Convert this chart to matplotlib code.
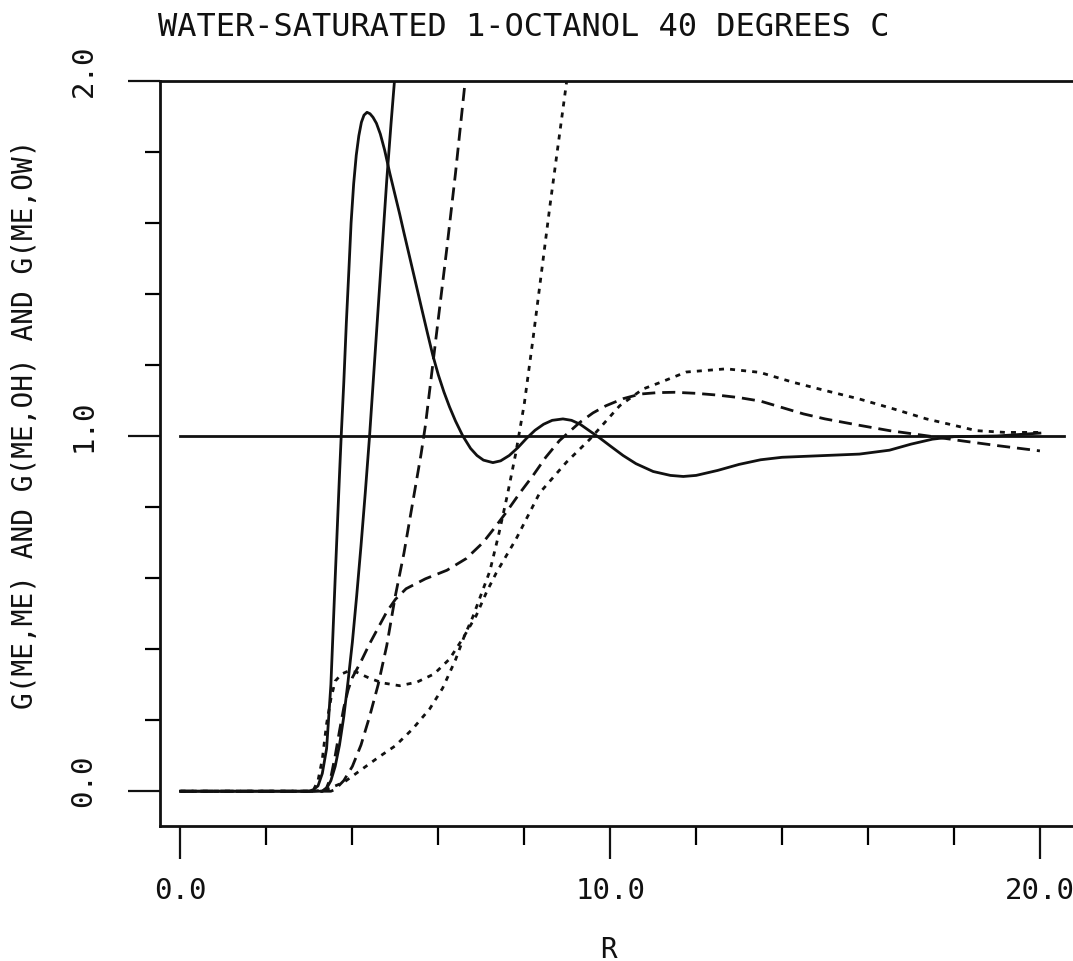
import matplotlib
matplotlib.use("Agg")
import matplotlib.pyplot as plt
import matplotlib.transforms as mtransforms
from matplotlib.ticker import MultipleLocator

plt.rcParams['font.family'] = ['DejaVu Sans Mono']

# g(ME,ME) - solid
r_mm = [0.0, 3.0, 3.1, 3.2, 3.3, 3.4, 3.5, 3.6, 3.7, 3.74, 3.8, 3.86, 3.92, 3.97, 4.03, 4.09, 4.15, 4.21, 4.27, 4.34,
        4.41, 4.48, 4.56, 4.65, 4.75, 4.87, 5.0, 5.1, 5.2, 5.33, 5.45, 5.6, 5.75, 5.87, 6.0, 6.13, 6.26, 6.4, 6.57, 6.75,
        6.9, 7.05, 7.27, 7.45, 7.65, 7.85, 8.05, 8.25, 8.45, 8.65, 8.9, 9.1, 9.3, 9.5, 9.76, 10.0, 10.3, 10.6, 11.0, 11.4,
        11.7, 12.0, 12.5, 13.0, 13.5, 14.0, 15.0, 15.8, 16.5, 17.0, 17.5, 18.0, 19.0, 20.0]
g_mm = [0.0, 0.0, 0.005, 0.015, 0.05, 0.12, 0.30, 0.60, 0.89, 1.0, 1.15, 1.32, 1.47, 1.60, 1.71, 1.79, 1.845, 1.883, 1.903, 1.911,
        1.907, 1.897, 1.88, 1.85, 1.805, 1.74, 1.675, 1.625, 1.572, 1.505, 1.443, 1.365, 1.288, 1.228, 1.172, 1.124, 1.082, 1.042, 1.0, 0.965,
        0.945, 0.932, 0.925, 0.93, 0.945, 0.967, 0.993, 1.016, 1.033, 1.044, 1.048, 1.044, 1.033, 1.016, 0.994, 0.972, 0.945, 0.922, 0.90, 0.889,
        0.886, 0.889, 0.903, 0.92, 0.933, 0.94, 0.945, 0.949, 0.96, 0.977, 0.991, 0.998, 1.0, 1.008]

# g(ME,OH) - dashed
r_oh = [0.0, 3.3, 3.4, 3.5, 3.6, 3.7, 3.8, 3.9, 4.0, 4.2, 4.4, 4.6, 4.8, 5.0, 5.25, 5.7, 6.2, 6.65, 7.04, 7.3,
        7.58, 7.9, 8.2, 8.5, 8.82, 9.29, 9.6, 9.9, 10.3, 10.7, 11.1, 11.5, 12.0, 12.5, 13.0, 13.5, 14.0, 14.5, 15.0, 15.8,
        16.5, 17.4, 18.2, 19.0, 20.0]
g_oh = [0.0, 0.0, 0.01, 0.04, 0.10, 0.17, 0.235, 0.285, 0.32, 0.365, 0.415, 0.46, 0.505, 0.54, 0.57, 0.598, 0.622, 0.655, 0.70, 0.74,
        0.785, 0.84, 0.888, 0.94, 0.987, 1.038, 1.065, 1.085, 1.105, 1.118, 1.122, 1.123, 1.12, 1.115, 1.108, 1.098, 1.08, 1.062, 1.048, 1.03,
        1.015, 1.0, 0.986, 0.973, 0.958]

# g(ME,OW) - dotted
r_ow = [0.0, 3.0, 3.1, 3.2, 3.3, 3.4, 3.5, 3.6, 3.75, 3.9, 4.1, 4.4, 4.7, 5.1, 5.5, 5.9, 6.26, 6.57, 6.88, 7.12,
        7.35, 7.81, 8.36, 8.98, 9.52, 10.22, 10.76, 11.15, 11.77, 12.7, 13.48, 14.26, 15.0, 15.8, 16.6, 17.36, 18.0, 18.52, 19.2, 20.0]
g_ow = [0.0, 0.0, 0.005, 0.03, 0.09, 0.19, 0.26, 0.31, 0.33, 0.338, 0.335, 0.318, 0.305, 0.297, 0.307, 0.33, 0.372, 0.43, 0.494, 0.56,
        0.615, 0.71, 0.84, 0.926, 0.99, 1.085, 1.132, 1.15, 1.18, 1.189, 1.179, 1.151, 1.128, 1.104, 1.076, 1.048, 1.03, 1.015, 1.01, 1.01]

# running coordination numbers (go off the top)
rn_mm = [0.0, 3.3, 3.4, 3.5, 3.6, 3.7, 3.8, 3.9, 4.0, 4.1, 4.2, 4.3, 4.4, 4.5, 4.6, 4.7, 4.8, 4.9, 5.0, 5.1]
n_mm = [0.0, 0.0, 0.008, 0.03, 0.07, 0.13, 0.21, 0.31, 0.42, 0.55, 0.69, 0.84, 1.0, 1.18, 1.36, 1.54, 1.72, 1.88, 2.03, 2.18]

rn_oh = [0.0, 3.5, 3.6, 3.8, 4.0, 4.2, 4.4, 4.6, 4.8, 5.0, 5.2, 5.4, 5.6, 5.7, 5.8, 6.0, 6.2, 6.4, 6.6, 6.7]
n_oh = [0.0, 0.0, 0.005, 0.03, 0.07, 0.13, 0.21, 0.30, 0.41, 0.55, 0.67, 0.81, 0.95, 1.03, 1.13, 1.33, 1.53, 1.74, 1.97, 2.09]

rn_ow = [0.0, 3.1, 3.4, 3.8, 4.2, 4.6, 5.0, 5.4, 5.8, 6.1, 6.4, 6.6, 6.8, 7.0, 7.2, 7.4, 7.6, 7.8, 8.0, 8.2,
         8.4, 8.6, 8.8, 9.0, 9.1]
n_ow = [0.0, 0.0, 0.005, 0.025, 0.06, 0.095, 0.128, 0.175, 0.232, 0.29, 0.37, 0.435, 0.49, 0.555, 0.62, 0.72, 0.83, 0.95, 1.09, 1.27,
        1.46, 1.65, 1.83, 2.01, 2.1]

ref_r = [0.0, 20.56]
ref_g = [1.0, 1.0]

x_labels = ['0.0', '10.0', '20.0']
y_labels = ['0.0', '1.0', '2.0']

W, H = 1073, 962
fig = plt.figure(figsize=(W / 100, H / 100), dpi=100)
fig.patch.set_facecolor('white')
ax = fig.add_axes([160 / W, (H - 826.7) / H, 913 / W, (826.7 - 81.7) / H])

k = '#111111'
lw = 2.0
dash = (0, (4.7, 2.5))
dot = (0, (1.8, 2.2))

ax.plot(ref_r, ref_g, color=k, lw=lw)
ax.plot(r_mm, g_mm, color=k, lw=lw)
ax.plot(rn_mm, n_mm, color=k, lw=lw)
ax.plot(r_oh, g_oh, color=k, lw=lw, linestyle=dash)
ax.plot(rn_oh, n_oh, color=k, lw=lw, linestyle=dash)
ax.plot(r_ow, g_ow, color=k, lw=lw, linestyle=dot)
ax.plot(rn_ow, n_ow, color=k, lw=lw, linestyle=dot)

ax.set_xlim(-0.477, 20.77)
ax.set_ylim(-0.097, 2.0)

for s in ['left', 'top', 'bottom']:
    ax.spines[s].set_linewidth(2.0)
    ax.spines[s].set_color(k)
ax.spines['right'].set_visible(False)

ax.set_xticks([0, 10, 20])
ax.set_xticklabels(x_labels)
ax.xaxis.set_minor_locator(MultipleLocator(2))
ax.set_yticks([0, 1, 2])
ax.set_yticklabels(y_labels, rotation=90, va='center')
ax.yaxis.set_minor_locator(MultipleLocator(0.2))

ax.tick_params(axis='x', which='major', direction='out', length=24, width=1.6, pad=12, labelsize=21, colors=k)
ax.tick_params(axis='x', which='minor', direction='out', length=14, width=1.6)
ax.tick_params(axis='y', which='major', direction='out', length=23, width=1.6, pad=22, labelsize=21, colors=k)
ax.tick_params(axis='y', which='minor', direction='out', length=11, width=1.6)

# y labels sit a little above their ticks in the original
shift = mtransforms.ScaledTranslation(0, 0.11, fig.dpi_scale_trans)
for lab in ax.get_yticklabels():
    lab.set_transform(lab.get_transform() + shift)

fig.text(158 / W, 1 - 28 / H, 'WATER-SATURATED 1-OCTANOL 40 DEGREES C',
         ha='left', va='center', fontsize=23, color=k)
fig.text(608 / W, 1 - 950 / H, 'R', ha='center', va='center', fontsize=20, color=k)
fig.text(25 / W, 1 - 424 / H, 'G(ME,ME) AND G(ME,OH) AND G(ME,OW)',
         ha='center', va='center', rotation=90, fontsize=20, color=k)

fig.savefig('out.png', dpi=100, facecolor='white')
